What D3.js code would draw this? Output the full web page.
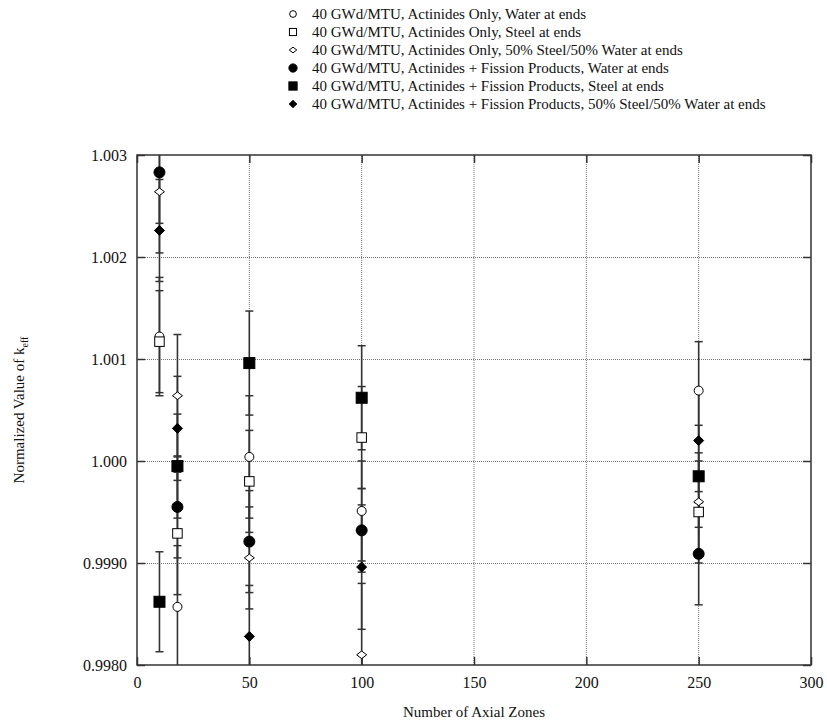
<!DOCTYPE html>
<html>
<head>
<meta charset="utf-8">
<script src="https://cdn.jsdelivr.net/npm/d3@7"></script>
<style>
  html, body { margin: 0; padding: 0; background: #fff; }
  svg text { font-family: "Liberation Serif", "Times New Roman", serif; fill: #111; }
</style>
</head>
<body>
<svg id="chart" width="827" height="725"></svg>
<script>
// Number of axial zones used in each calculation
const zones = [10, 18, 50, 100, 250];

// Legend labels, in drawing order
const seriesNames = [
  "40 GWd/MTU, Actinides Only, Water at ends",
  "40 GWd/MTU, Actinides Only, Steel at ends",
  "40 GWd/MTU, Actinides Only, 50% Steel/50% Water at ends",
  "40 GWd/MTU, Actinides + Fission Products, Water at ends",
  "40 GWd/MTU, Actinides + Fission Products, Steel at ends",
  "40 GWd/MTU, Actinides + Fission Products, 50% Steel/50% Water at ends"
];

// Normalized k-eff for each series, one value per zone count
const aoWater  = [1.00122, 0.99857, 1.00004, 0.99951, 1.00069];
const aoSteel  = [1.00117, 0.99929, 0.99980, 1.00023, 0.99950];
const aoMixed  = [1.00264, 1.00064, 0.99905, 0.99810, 0.99960];
const fpWater  = [1.00283, 0.99955, 0.99921, 0.99932, 0.99909];
const fpSteel  = [0.99862, 0.99995, 1.00096, 1.00062, 0.99985];
const fpMixed  = [1.00226, 1.00032, 0.99828, 0.99896, 1.00020];

// One-sigma uncertainties (half-length of each error bar)
const aoWaterErr = [0.00058, 0.00060, 0.00060, 0.00049, 0.00048];
const aoSteelErr = [0.00050, 0.00060, 0.00050, 0.00050, 0.00050];
const aoMixedErr = [0.00060, 0.00060, 0.00050, 0.00070, 0.00048];
const fpWaterErr = [0.00050, 0.00050, 0.00050, 0.00041, 0.00050];
const fpSteelErr = [0.00049, 0.00051, 0.00051, 0.00051, 0.00050];
const fpMixedErr = [0.00050, 0.00051, 0.00050, 0.00061, 0.00050];

// Axis ticks
const xTicks = [0, 50, 100, 150, 200, 250, 300];
const yTicks = [0.998, 0.999, 1.000, 1.001, 1.002, 1.003];
const yTickLabels = ["0.9980", "0.9990", "1.000", "1.001", "1.002", "1.003"];

const seriesValues = [aoWater, aoSteel, aoMixed, fpWater, fpSteel, fpMixed];
const seriesErrors = [aoWaterErr, aoSteelErr, aoMixedErr, fpWaterErr, fpSteelErr, fpMixedErr];
const markerKinds = ["circle", "square", "diamond", "circle", "square", "diamond"];
const markerFilled = [false, false, false, true, true, true];

const svg = d3.select("#chart");
const margin = { left: 137, top: 155, right: 16, bottom: 60 };
const W = 827, H = 725;
const plotW = W - margin.left - margin.right;
const plotH = H - margin.top - margin.bottom;

const x = d3.scaleLinear().domain([0, 300]).range([margin.left, margin.left + plotW]);
const y = d3.scaleLinear().domain([0.998, 1.003]).range([margin.top + plotH, margin.top]);

const ink = "#333";

// Dotted grid
const grid = svg.append("g");
grid.selectAll("line.gx").data(xTicks.slice(1, -1)).join("line")
  .attr("x1", d => x(d)).attr("x2", d => x(d))
  .attr("y1", y(0.998)).attr("y2", y(1.003))
  .attr("stroke", "#777").attr("stroke-width", 1).attr("stroke-dasharray", "1,1");
grid.selectAll("line.gy").data(yTicks.slice(1, -1)).join("line")
  .attr("x1", x(0)).attr("x2", x(300))
  .attr("y1", d => Math.round(y(d)) + 0.5).attr("y2", d => Math.round(y(d)) + 0.5)
  .attr("stroke", "#777").attr("stroke-width", 1).attr("stroke-dasharray", "1,1");

// Axes with inward ticks
const tickLen = 8;
const fmtY = d => yTickLabels[yTicks.findIndex(t => Math.abs(t - d) < 1e-9)];

const axL = svg.append("g").attr("transform", `translate(${x(0)},0)`)
  .call(d3.axisLeft(y).tickValues(yTicks).tickFormat(fmtY).tickSizeInner(-tickLen).tickSizeOuter(0).tickPadding(10));
const axR = svg.append("g").attr("transform", `translate(${x(300)},0)`)
  .call(d3.axisRight(y).tickValues(yTicks).tickFormat("").tickSizeInner(-tickLen).tickSizeOuter(0));
const axB = svg.append("g").attr("transform", `translate(0,${y(0.998)})`)
  .call(d3.axisBottom(x).tickValues(xTicks).tickFormat(d3.format("d")).tickSizeInner(-tickLen).tickSizeOuter(0).tickPadding(12));
const axT = svg.append("g").attr("transform", `translate(0,${y(1.003)})`)
  .call(d3.axisTop(x).tickValues(xTicks).tickFormat("").tickSizeInner(-tickLen).tickSizeOuter(0));

[axL, axR, axB, axT].forEach(a => {
  a.select(".domain").remove();
  a.selectAll(".tick line").attr("stroke", ink).attr("stroke-width", 1.5);
  a.selectAll(".tick text").style("font-family", "Liberation Serif, serif").style("font-size", "16px").attr("fill", "#111");
});

// Plot frame
svg.append("rect")
  .attr("x", x(0)).attr("y", y(1.003))
  .attr("width", x(300) - x(0)).attr("height", y(0.998) - y(1.003))
  .attr("fill", "none").attr("stroke", ink).attr("stroke-width", 1.5);

// Clip region for error bars
svg.append("clipPath").attr("id", "plotClip").append("rect")
  .attr("x", x(0)).attr("y", y(1.003))
  .attr("width", x(300) - x(0)).attr("height", y(0.998) - y(1.003));

// Flatten series into point records
const points = [];
seriesValues.forEach((vals, s) => {
  vals.forEach((v, i) => points.push({ s, x: zones[i], v, e: seriesErrors[s][i] }));
});

// Error bars
const capHalf = 4;
const eb = svg.append("g").attr("clip-path", "url(#plotClip)");
points.forEach(p => {
  const cx = x(p.x);
  const yTop = y(p.v + p.e), yBot = y(p.v - p.e);
  eb.append("line").attr("x1", cx).attr("x2", cx).attr("y1", yTop).attr("y2", yBot)
    .attr("stroke", ink).attr("stroke-width", 1.6);
  [yTop, yBot].forEach(yy => eb.append("line")
    .attr("x1", cx - capHalf).attr("x2", cx + capHalf).attr("y1", yy).attr("y2", yy)
    .attr("stroke", ink).attr("stroke-width", 1.5));
});

// Marker drawing; k scales the symbol
function drawMarker(g, kind, filled, cx, cy, k = 1) {
  const fill = filled ? "#000" : "#fff";
  if (kind === "circle") {
    g.append("circle").attr("cx", cx).attr("cy", cy).attr("r", (filled ? 5.5 : 4.5) * k)
      .attr("fill", fill).attr("stroke", "#000").attr("stroke-width", 1);
  } else if (kind === "square") {
    const s = (filled ? 11 : 9.5) * k;
    g.append("rect").attr("x", cx - s / 2).attr("y", cy - s / 2).attr("width", s).attr("height", s)
      .attr("fill", fill).attr("stroke", "#000").attr("stroke-width", 1);
  } else {
    const hw = 5 * k, hh = (filled ? 5 : 3.8) * k;
    g.append("path")
      .attr("d", `M${cx},${cy - hh}L${cx + hw},${cy}L${cx},${cy + hh}L${cx - hw},${cy}Z`)
      .attr("fill", fill).attr("stroke", "#000").attr("stroke-width", 1);
  }
}

const mk = svg.append("g");
points.forEach(p => drawMarker(mk, markerKinds[p.s], markerFilled[p.s], x(p.x), y(p.v)));

// Legend
const legend = svg.append("g");
seriesNames.forEach((name, i) => {
  const ly = 14 + i * 18;
  drawMarker(legend, markerKinds[i], markerFilled[i], 293, ly, 0.75);
  legend.append("text").attr("x", 312).attr("y", ly).attr("dy", "0.35em")
    .style("font-size", "15px").text(name);
});

// Axis titles
svg.append("text")
  .attr("x", (x(0) + x(300)) / 2).attr("y", 717)
  .attr("text-anchor", "middle").style("font-size", "15px")
  .text("Number of Axial Zones");

const yt = svg.append("text")
  .attr("transform", `translate(24,${(y(0.998) + y(1.003)) / 2}) rotate(-90)`)
  .attr("text-anchor", "middle").style("font-size", "15px");
yt.append("tspan").text("Normalized Value of k");
yt.append("tspan").attr("dy", 4).style("font-size", "10px").text("eff");
</script>
</body>
</html>
